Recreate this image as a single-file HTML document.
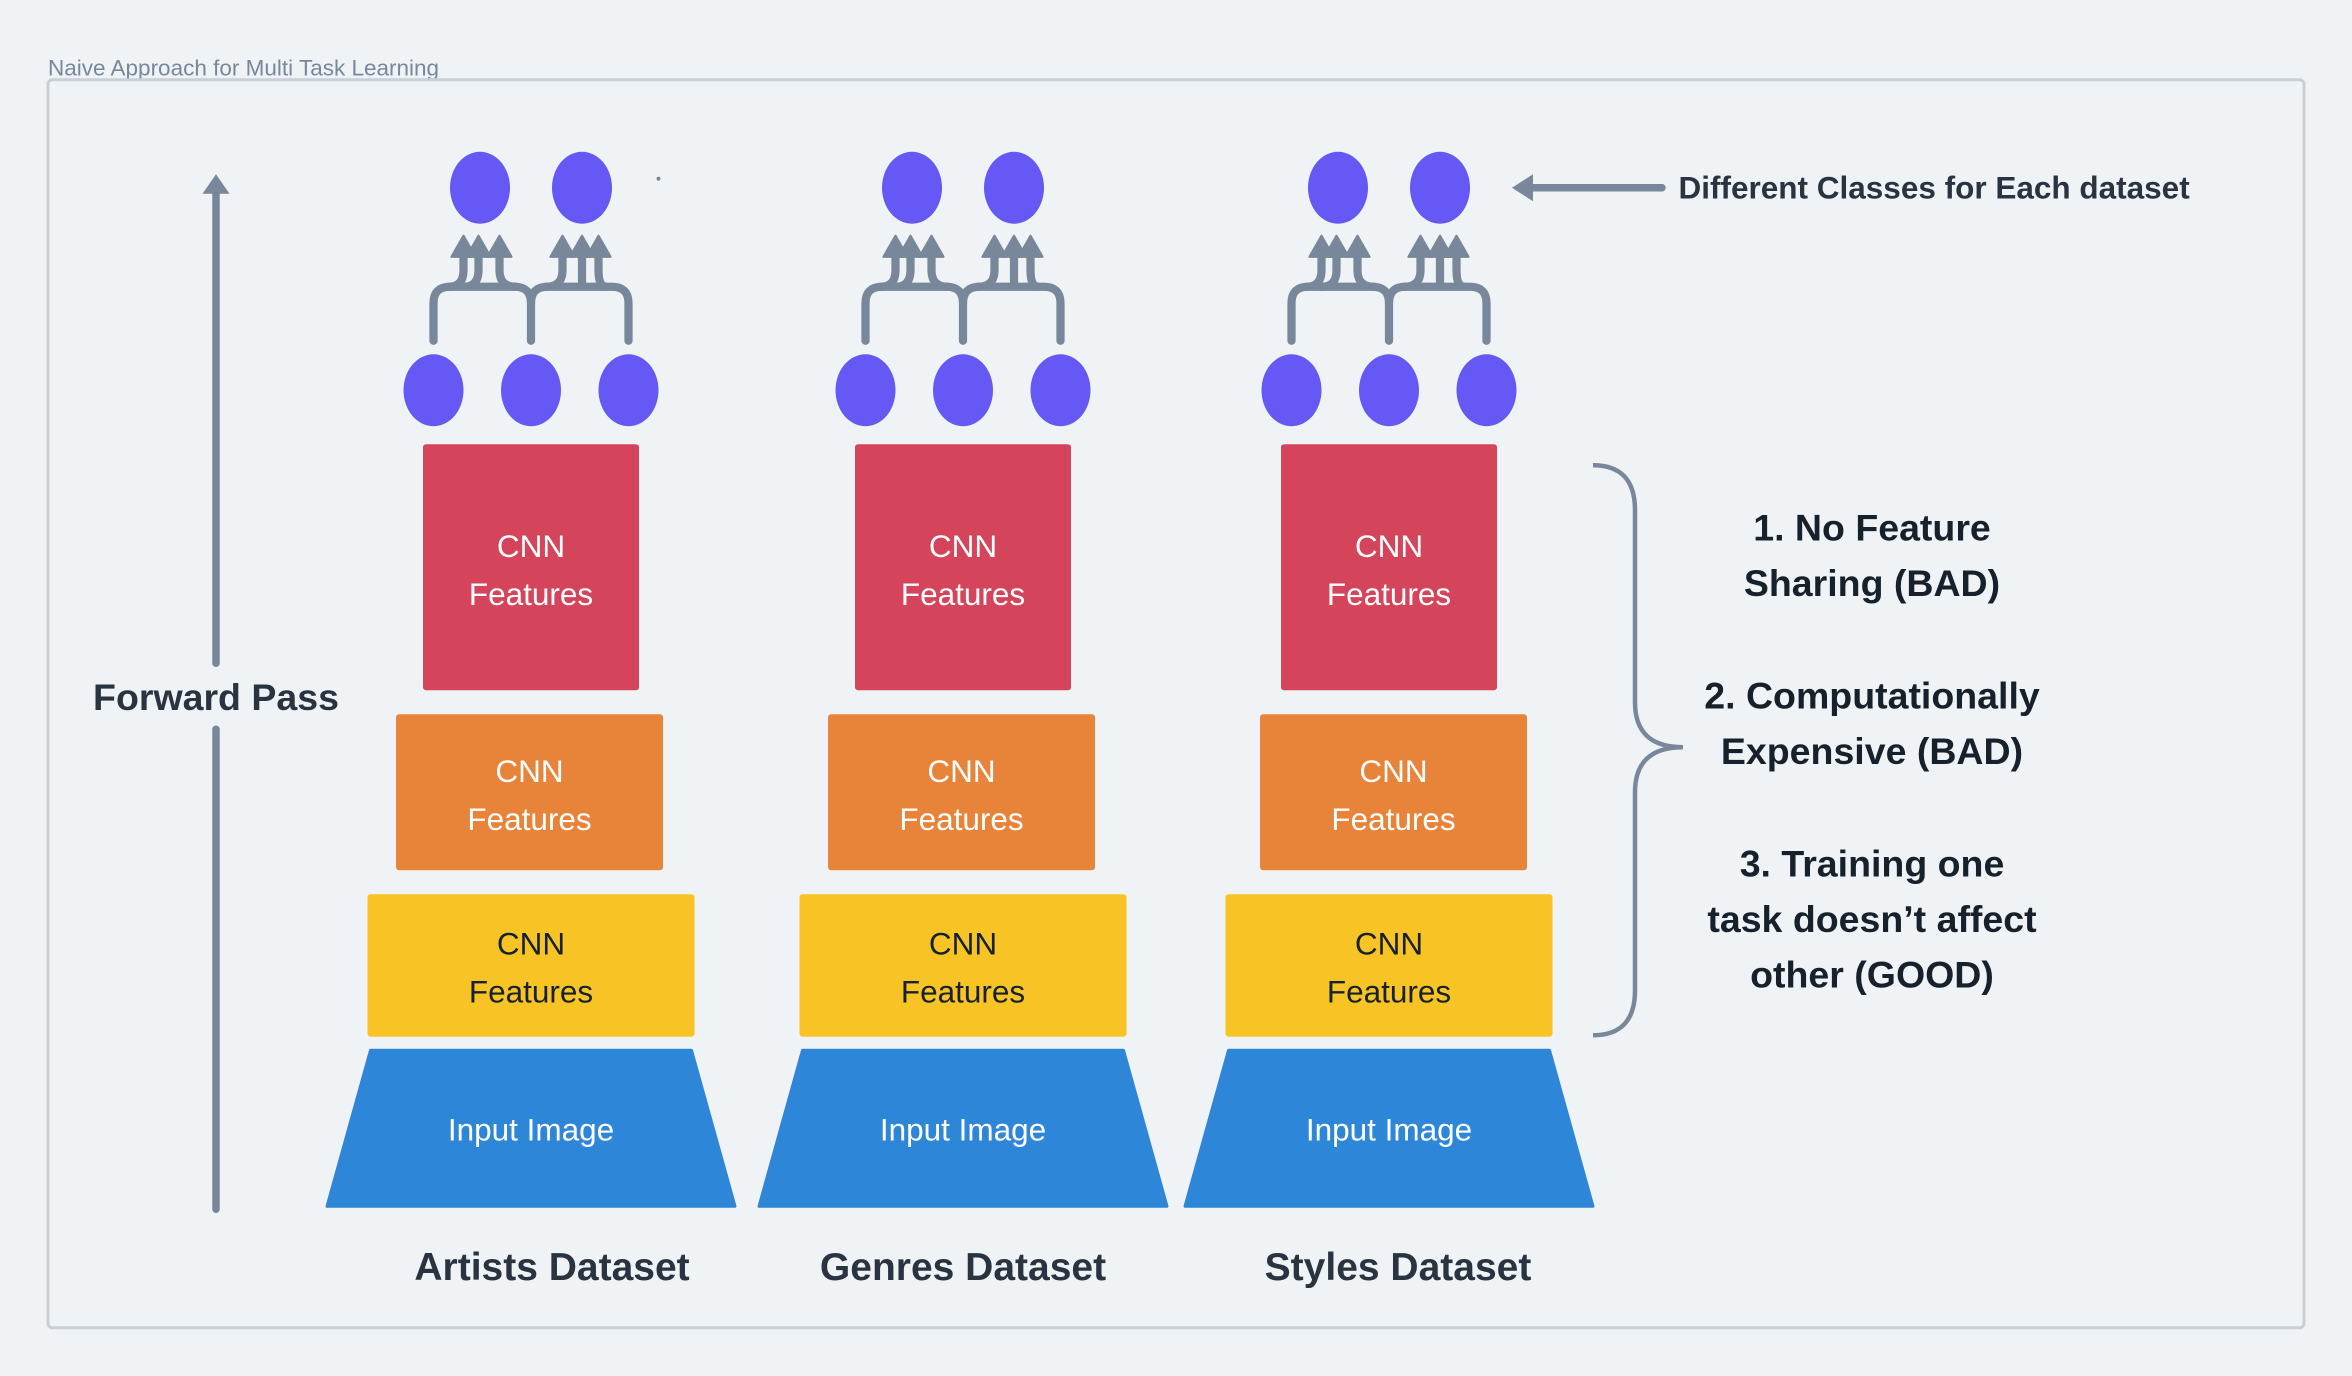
<!DOCTYPE html>
<html><head><meta charset="utf-8"><style>
html,body{margin:0;padding:0;background:#eff3f6;}
svg{display:block}
text{font-family:"Liberation Sans",sans-serif;}
</style></head><body>
<svg width="2352" height="1376" viewBox="0 0 1568 917" xmlns="http://www.w3.org/2000/svg">
<defs>
<g id="conn" fill="none" stroke="#78889a" stroke-width="5.5" stroke-linecap="round">
  <path d="M-65,227 V202 Q-65,191 -54,191 H-11 Q0,191 0,202 V227"/>
  <path d="M65,227 V202 Q65,191 54,191 H11 Q0,191 0,202"/>
  <path d="M-55,191 Q-45,191 -45,180 V170"/>
  <path d="M-45,191 Q-35,191 -35,180 V170"/>
  <path d="M-10,191 Q-21,191 -21,180 V170"/>
  <path d="M10,191 Q21,191 21,180 V170"/>
  <path d="M34,191 Q34,185 34,180 V170"/>
  <path d="M50,191 Q45,191 45,180 V170"/>
</g>
<g id="heads" fill="#78889a" stroke="#78889a" stroke-width="1.5" stroke-linejoin="round">
  <polygon points="-45,157 -53,171 -37,171"/>
  <polygon points="-35,157 -43,171 -27,171"/>
  <polygon points="-21,157 -29,171 -13,171"/>
  <polygon points="21,157 13,171 29,171"/>
  <polygon points="34,157 26,171 42,171"/>
  <polygon points="45,157 37,171 53,171"/>
</g>
<g id="nodes" fill="#6658f5">
  <ellipse cx="-34" cy="125" rx="20" ry="24"/>
  <ellipse cx="34" cy="125" rx="20" ry="24"/>
  <ellipse cx="-65" cy="260" rx="20" ry="24"/>
  <ellipse cx="0" cy="260" rx="20" ry="24"/>
  <ellipse cx="65" cy="260" rx="20" ry="24"/>
</g>
<g id="top">
  <rect x="-72" y="296" width="144" height="164" rx="2" fill="#d4445a"/>
  <rect x="-109" y="596" width="218" height="95" rx="2" fill="#f8c425"/>
  <polygon points="-107,700 107,700 136,804 -136,804" fill="#2e86d9" stroke="#2e86d9" stroke-width="2" stroke-linejoin="round"/>
  <g font-size="21" text-anchor="middle" fill="#fff">
    <text x="0" y="371">CNN</text><text x="0" y="403">Features</text>
    <text x="0" y="760">Input Image</text>
  </g>
  <g font-size="21" text-anchor="middle" fill="#17212b">
    <text x="0" y="636">CNN</text><text x="0" y="668">Features</text>
  </g>
</g>
<g id="orange">
  <rect x="-90" y="476" width="178" height="104" rx="2" fill="#e8843a"/>
  <g font-size="21" text-anchor="middle" fill="#fff">
    <text x="-1" y="521">CNN</text><text x="-1" y="553">Features</text>
  </g>
</g>
<g id="col"><use href="#conn"/><use href="#heads"/><use href="#nodes"/><use href="#top"/></g>
</defs>
<text x="32" y="50" font-size="15" fill="#78889a">Naive Approach for Multi Task Learning</text>
<rect x="32" y="53" width="1504" height="832" fill="none" stroke="#c7d0d8" stroke-width="2" rx="3"/>
<use href="#col" x="354"/><use href="#orange" x="354"/>
<use href="#col" x="642"/><use href="#orange" x="642"/>
<use href="#col" x="926"/><use href="#orange" x="930"/>
<circle cx="439" cy="119" r="1.3" fill="#78889a"/>
<g stroke="#78889a" stroke-width="5" stroke-linecap="round">
<line x1="144" y1="806" x2="144" y2="486"/>
<line x1="144" y1="442" x2="144" y2="126"/>
</g>
<polygon points="144,116 135,129 153,129" fill="#78889a"/>
<text x="144" y="473" font-size="25" font-weight="bold" fill="#2a3440" text-anchor="middle">Forward Pass</text>
<line x1="1108" y1="125" x2="1020" y2="125" stroke="#78889a" stroke-width="5" stroke-linecap="round"/>
<polygon points="1008,125 1022,116 1022,134" fill="#78889a"/>
<text x="1119" y="132" font-size="21" font-weight="bold" fill="#2a3440">Different Classes for Each dataset</text>
<path d="M1062,310 Q1090,310 1090,340 V468 Q1090,498 1122,498 Q1090,498 1090,528 V660 Q1090,690 1062,690" fill="none" stroke="#78889a" stroke-width="3"/>
<g font-size="25" font-weight="bold" fill="#17212b" text-anchor="middle">
<text x="1248" y="360">1. No Feature</text>
<text x="1248" y="397">Sharing (BAD)</text>
<text x="1248" y="472">2. Computationally</text>
<text x="1248" y="509">Expensive (BAD)</text>
<text x="1248" y="584">3. Training one</text>
<text x="1248" y="621">task doesn’t affect</text>
<text x="1248" y="658">other (GOOD)</text>
</g>
<g font-size="26" font-weight="bold" fill="#2a3440" text-anchor="middle">
<text x="368" y="853">Artists Dataset</text>
<text x="642" y="853">Genres Dataset</text>
<text x="932" y="853">Styles Dataset</text>
</g>
</svg>
</body></html>
